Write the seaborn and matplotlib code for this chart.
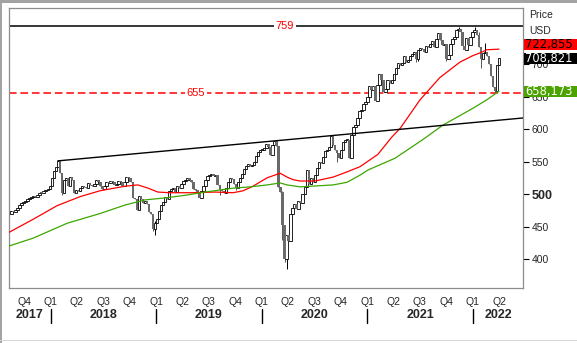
import numpy as np
import pandas as pd
import matplotlib
matplotlib.use("Agg")
import matplotlib.pyplot as plt
import matplotlib.dates as mdates
import matplotlib.transforms as mtransforms
from matplotlib.patches import Rectangle
import seaborn as sns

sns.set_style("white")
plt.rcParams["font.family"] = ["Liberation Sans", "DejaVu Sans"]

# ---------------------------------------------------------------------------
# Weekly index candles (Friday closes), opens follow the prior close
# ---------------------------------------------------------------------------
first_week = "2017-08-18"
first_open = 469.0
closes = [
    474, 473, 476, 478, 483, 486, 487, 490, 492, 494, 495, 497, 496, 498, 502, 501, 504, 506, 507, 512,
    525, 536, 542, 551, 533, 501, 521, 525, 513, 526, 521, 501, 506, 505, 510, 512, 511, 510, 517, 514,
    513, 516, 521, 518, 512, 507, 513, 518, 517, 520, 519, 514, 515, 520, 518, 513, 518, 526, 524, 518,
    494, 492, 476, 497, 493, 486, 490, 484, 472, 469, 446, 455, 462, 474, 483, 487, 495, 493, 504, 507,
    509, 503, 512, 510, 516, 520, 521, 524, 522, 519, 508, 506, 503, 494, 505, 512, 521, 527, 530, 531,
    528, 530, 514, 506, 505, 502, 509, 519, 525, 523, 515, 510, 519, 524, 531, 538, 543, 546, 543, 545,
    550, 558, 564, 567, 567, 571, 577, 573, 560, 576, 581, 574, 511, 503, 452, 400, 437, 428, 470, 479,
    484, 477, 490, 486, 500, 511, 537, 515, 524, 518, 530, 540, 549, 548, 557, 566, 568, 573, 590, 575,
    567, 563, 556, 568, 580, 583, 583, 556, 591, 603, 606, 617, 627, 630, 638, 641, 650, 666, 660, 666,
    643, 668, 684, 676, 657, 662, 675, 671, 676, 684, 694, 702, 699, 702, 712, 703, 706, 712, 716, 719,
    707, 721, 725, 723, 718, 727, 726, 731, 735, 726, 738, 747, 737, 729, 731, 707, 714, 731, 738, 742,
    752, 754, 749, 728, 722, 740, 730, 742, 750, 752, 745, 726, 708, 717, 718, 712, 700, 682, 664, 659,
    698, 708.821,
]

# shadows that reach beyond the candle body
low_wick_index = [25, 70, 71, 103, 111, 134, 135, 136, 161, 200, 201, 215, 223, 232, 239, 240]
low_wick_value = [498, 443, 437, 498, 506, 429, 395, 385, 549, 703, 705, 704, 724, 694, 655, 657]
high_wick_index = [23, 71, 134, 135, 221, 229, 231, 234]
high_wick_value = [553, 458, 505, 453, 757, 757, 750, 732]

# moving averages
red_ma_dates = [
    "2017-08-10", "2017-11-01", "2018-01-23", "2018-04-13", "2018-06-21", "2018-09-15",
    "2018-10-30", "2018-12-04", "2019-01-07", "2019-02-18", "2019-05-05", "2019-07-24",
    "2019-09-24", "2019-10-29", "2019-12-02", "2020-01-20", "2020-03-05", "2020-03-29",
    "2020-04-19", "2020-05-13", "2020-07-03", "2020-09-04", "2020-10-22", "2020-12-06",
    "2021-02-06", "2021-03-27", "2021-04-24", "2021-07-02", "2021-09-08", "2021-11-17",
    "2022-01-01", "2022-01-25", "2022-02-18", "2022-04-01",
]
red_ma_values = [
    441, 461, 482, 496, 505, 512, 514, 509, 503, 502, 502, 503,
    502, 505, 512, 525, 532, 526, 522, 520, 520, 526, 534, 542,
    561, 588, 601, 645, 679, 703, 713, 717, 722, 722.855,
]
green_ma_dates = [
    "2017-08-10", "2017-11-01", "2018-02-27", "2018-06-21", "2018-09-15", "2018-11-24",
    "2019-02-01", "2019-04-11", "2019-06-19", "2019-09-24", "2019-11-22", "2020-01-20",
    "2020-03-05", "2020-03-29", "2020-05-13", "2020-09-04", "2020-10-22", "2020-12-06",
    "2021-01-03", "2021-04-06", "2021-07-09", "2021-09-19", "2022-01-01", "2022-02-18",
    "2022-04-01",
]
green_ma_values = [
    420, 432, 455, 470, 483, 491, 494, 498, 503, 509, 511, 514,
    517, 514, 511, 514, 518, 529, 537, 555, 583, 606, 632, 645,
    658.173,
]

# support trend line and horizontal levels
trend_dates = ["2018-01-26", "2022-06-23"]
trend_values = [551, 617]
level_top = 759
level_support = 655

price_ticks = [400, 450, 500, 550, 600, 650, 700]
x_start, x_end = "2017-08-10", "2022-06-23"
y_low, y_high = 355.4, 786.2

# ---------------------------------------------------------------------------
W, H = 577, 343
fig = plt.figure(figsize=(W / 100, H / 100), dpi=100)
fig.patch.set_facecolor("white")
ax = fig.add_axes([9 / W, (H - 288) / H, (523 - 9) / W, (288 - 8) / H])
ax.set_facecolor("white")

weeks = pd.date_range(first_week, periods=len(closes), freq="7D")
xn = mdates.date2num(weeks)
c = np.asarray(closes, dtype=float)
o = np.concatenate([[first_open], c[:-1]])
body_lo = np.minimum(o, c)
body_hi = np.maximum(o, c)
lo = body_lo.copy()
hi = body_hi.copy()
for k, v in zip(low_wick_index, low_wick_value):
    lo[k] = min(lo[k], v)
for k, v in zip(high_wick_index, high_wick_value):
    hi[k] = max(hi[k], v)

ax.set_xlim(mdates.date2num(pd.Timestamp(x_start)), mdates.date2num(pd.Timestamp(x_end)))
ax.set_ylim(y_low, y_high)

# horizontal levels
ax.axhline(level_top, color="black", lw=1.1, zorder=2)
ax.axhline(level_support, color="#ff0000", lw=1.1, ls=(0, (5, 2.5)), zorder=2)
lvl_tr = mtransforms.blended_transform_factory(ax.transAxes, ax.transData)
for frac, lvl in [(0.537, level_top), (0.364, level_support)]:
    ax.text(frac, lvl, f"{lvl}", transform=lvl_tr, color="#ff0000", fontsize=8,
            ha="center", va="center", zorder=6,
            bbox=dict(facecolor="white", edgecolor="none", pad=1.2))

# candles
up = c >= o
ax.vlines(xn[up], lo[up], hi[up], color="black", lw=0.7, zorder=3)
ax.vlines(xn[~up], lo[~up], hi[~up], color="#555555", lw=0.7, zorder=3)
height = np.maximum(body_hi - body_lo, 1.5)
ax.bar(xn[up], height[up], bottom=body_lo[up], width=8.5, facecolor="white",
       edgecolor="black", linewidth=0.6, zorder=4)
ax.bar(xn[~up], height[~up], bottom=body_lo[~up], width=8.5, facecolor="#6a6a6a",
       edgecolor="none", linewidth=0, zorder=4)

# moving averages and trend line
sns.lineplot(x=mdates.date2num(pd.to_datetime(red_ma_dates)), y=red_ma_values,
             color="#ff0000", lw=0.9, ax=ax, zorder=5, legend=False)
sns.lineplot(x=mdates.date2num(pd.to_datetime(green_ma_dates)), y=green_ma_values,
             color="#3da600", lw=0.9, ax=ax, zorder=5, legend=False)
sns.lineplot(x=mdates.date2num(pd.to_datetime(trend_dates)), y=trend_values,
             color="black", lw=1.0, ax=ax, zorder=5, legend=False)

# frame
for sp in ax.spines.values():
    sp.set_color("#8c8c8c")
    sp.set_linewidth(0.9)
    sp.set_visible(True)

# right price axis
ax.yaxis.tick_right()
ax.set_yticks(price_ticks)
ax.set_yticklabels([str(t) for t in price_ticks])
ax.tick_params(axis="y", direction="out", length=4, width=0.8, color="black",
               labelsize=7.5, pad=2, left=False, right=True,
               labelleft=False, labelright=True)
for lbl in ax.get_yticklabels():
    if lbl.get_text() == "500":
        lbl.set_fontweight("bold")
        lbl.set_fontsize(9)

# quarter axis
quarters = pd.date_range("2017-10-01", "2022-04-01", freq="QS")
ax.set_xticks(mdates.date2num(quarters))
ax.set_xticklabels([f"Q{q.quarter}" for q in quarters])
ax.tick_params(axis="x", direction="out", length=4, width=0.8, color="black",
               labelsize=7.5, pad=2.5)
ax.set_xlabel("")
ax.set_ylabel("")

# years below the quarters
yr_tr = mtransforms.blended_transform_factory(ax.transData, fig.transFigure)
lo_lim, hi_lim = ax.get_xlim()
for yr in range(2017, 2023):
    a = max(mdates.date2num(pd.Timestamp(f"{yr}-01-01")), lo_lim)
    b = min(mdates.date2num(pd.Timestamp(f"{yr + 1}-01-01")), hi_lim)
    ax.text((a + b) / 2, 1 - 315 / H, str(yr), transform=yr_tr, fontsize=9,
            fontweight="bold", ha="center", va="center", clip_on=False)
    if yr > 2017:
        ax.plot([a, a], [1 - 309 / H, 1 - 323 / H], transform=yr_tr, color="black",
                lw=1.0, clip_on=False)

# header of the price axis
fig.text(529 / W, 1 - 15.5 / H, "Price", fontsize=7.5, va="center", ha="left")
fig.text(529 / W, 1 - 31 / H, "USD", fontsize=7.5, va="center", ha="left")

# last-value boxes
def ypix(v):
    return ax.transData.transform((0, v))[1]

y_close = ypix(closes[-1])
y_red = max(ypix(red_ma_values[-1]), y_close + 14)
y_green = ypix(green_ma_values[-1])
for yc, val, face, tcol in [
    (y_red, red_ma_values[-1], "#ff0000", "black"),
    (y_close, closes[-1], "black", "white"),
    (y_green, green_ma_values[-1], "#4ca300", "white"),
]:
    fig.add_artist(Rectangle((523.5 / W, (yc - 5.5) / H), 54 / W, 11 / H,
                             transform=fig.transFigure, facecolor=face,
                             edgecolor="none", zorder=10))
    fig.text(525 / W, yc / H, f"{val:.3f}".replace(".", ","), color=tcol,
             fontsize=8.3, family="DejaVu Sans", va="center", ha="left", zorder=11)

# outer window edge
fig.add_artist(Rectangle((0, 1 - 2.5 / H), 1, 2.5 / H, transform=fig.transFigure,
                         facecolor="#a3a3a3", edgecolor="none", zorder=20))
fig.add_artist(Rectangle((0, 0), 2 / W, 1, transform=fig.transFigure,
                         facecolor="#a3a3a3", edgecolor="none", zorder=20))
fig.add_artist(Rectangle((0, 2 / H), 1, 1.5 / H, transform=fig.transFigure,
                         facecolor="#d6d6d6", edgecolor="none", zorder=20))

fig.savefig("out.png", dpi=100)
